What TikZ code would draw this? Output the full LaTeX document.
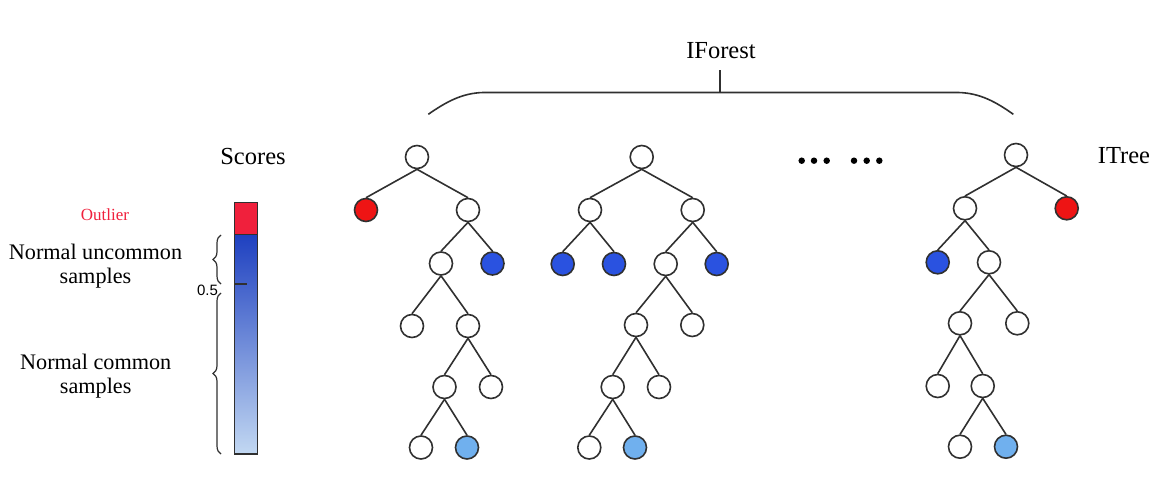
\documentclass[tikz,border=0pt]{standalone}
\usepackage{fontspec}
\setmainfont{Liberation Serif}
\newfontfamily\labelsans{Liberation Sans}
\usetikzlibrary{decorations.pathreplacing}

\definecolor{leafred}{HTML}{EE1414}
\definecolor{leafblue}{HTML}{2A52E0}
\definecolor{leaflight}{HTML}{70B0EE}
\definecolor{outred}{HTML}{F0203C}
\definecolor{edgegray}{HTML}{303030}
\definecolor{bartop}{HTML}{1E40C0}
\definecolor{barmid}{HTML}{5585E2}
\definecolor{barbot}{HTML}{C2D8F2}

\tikzset{
  nd/.style={circle, draw=edgegray, line width=1.6pt, minimum size=23pt, inner sep=0pt, fill=white},
  rednd/.style={nd, fill=leafred},
  bluend/.style={nd, fill=leafblue},
  lightnd/.style={nd, fill=leaflight},
  edge/.style={draw=edgegray, line width=1.6pt},
  bigtxt/.style={font=\fontsize{24.5}{28}\selectfont, inner sep=0pt},
  sidetxt/.style={font=\fontsize{22.2}{24}\selectfont, inner sep=0pt, align=center},
  dot/.style={circle, fill=black, minimum size=6.5pt, inner sep=0pt},
}

\begin{document}
\begin{tikzpicture}[x=1pt, y=1pt]
\useasboundingbox (0,0) rectangle (1155,-481);

% ---------- first isolation tree ----------
\node[nd]      (a0)  at (417,-157) {};
\node[rednd]   (a1)  at (366,-210) {};
\node[nd]      (a2)  at (468,-210) {};
\node[nd]      (a3)  at (441,-263.5) {};
\node[bluend]  (a4)  at (492.5,-263.5) {};
\node[nd]      (a5)  at (412,-326) {};
\node[nd]      (a6)  at (468,-326) {};
\node[nd]      (a7)  at (444.5,-387) {};
\node[nd]      (a8)  at (491,-387) {};
\node[nd]      (a9)  at (421,-447.5) {};
\node[lightnd] (a10) at (467,-447.5) {};
\foreach \p/\c in {a0/a1,a0/a2,a2/a3,a2/a4,a3/a5,a3/a6,a6/a7,a6/a8,a7/a9,a7/a10}
  \draw[edge] (\p.south) -- (\c.north);

% ---------- second isolation tree ----------
\node[nd]      (b0)  at (641.7,-157) {};
\node[nd]      (b1)  at (590,-210) {};
\node[nd]      (b2)  at (692.7,-210) {};
\node[bluend]  (b3)  at (562.7,-264) {};
\node[bluend]  (b4)  at (614,-264) {};
\node[nd]      (b5)  at (665.7,-264) {};
\node[bluend]  (b6)  at (716.7,-264) {};
\node[nd]      (b7)  at (636,-325) {};
\node[nd]      (b8)  at (692.3,-325) {};
\node[nd]      (b9)  at (612.7,-387) {};
\node[nd]      (b10) at (659,-387) {};
\node[nd]      (b11) at (589.3,-447.5) {};
\node[lightnd] (b12) at (635,-447.5) {};
\foreach \p/\c in {b0/b1,b0/b2,b1/b3,b1/b4,b2/b5,b2/b6,b5/b7,b5/b8,b7/b9,b7/b10,b9/b11,b9/b12}
  \draw[edge] (\p.south) -- (\c.north);

% ---------- last isolation tree ----------
\node[nd]      (c0)  at (1016,-155) {};
\node[nd]      (c1)  at (965,-208.3) {};
\node[rednd]   (c2)  at (1066.7,-208.3) {};
\node[bluend]  (c3)  at (937.7,-262.3) {};
\node[nd]      (c4)  at (989,-262.3) {};
\node[nd]      (c5)  at (960,-323.3) {};
\node[nd]      (c6)  at (1017.3,-323.3) {};
\node[nd]      (c7)  at (937.7,-386) {};
\node[nd]      (c8)  at (982.7,-386) {};
\node[nd]      (c9)  at (960,-446.7) {};
\node[lightnd] (c10) at (1006,-446.7) {};
\foreach \p/\c in {c0/c1,c0/c2,c1/c3,c1/c4,c4/c5,c4/c6,c5/c7,c5/c8,c8/c9,c8/c10}
  \draw[edge] (\p.south) -- (\c.north);

% ---------- ellipsis between trees ----------
\foreach \x [count=\i] in {801.7,814,826.7,854,866.7,879.3}
  \node[dot] (dot\i) at (\x,-160.7) {};

% ---------- forest brace ----------
\node[bigtxt, anchor=base] (forest) at (721,-59) {IForest};
\coordinate (bl) at (428.3,-114.3);
\coordinate (br) at (1013.3,-114.3);
\coordinate (bmid) at (720,-92.5);
\draw[edgegray, line width=1.6pt]
  (bl) .. controls (446,-102) and (462,-93) .. (483.3,-92.5)
  -- (958.3,-92.5) .. controls (980,-93) and (996,-102) .. (br);
\draw[edgegray, line width=1.6pt] (bmid) -- (720,-70);

\node[bigtxt, anchor=base] (itree) at (1124,-163.3) {ITree};
\node[bigtxt, anchor=base] (scores) at (253,-164.3) {Scores};

% ---------- score bar ----------
\shade[top color=bartop, middle color=barmid, bottom color=barbot]
  (234.3,-234.3) rectangle (257.3,-454);
\draw[edgegray, line width=1.3pt] (234.3,-234.3) rectangle (257.3,-454);
\draw[edgegray, line width=1.3pt, fill=outred] (234.3,-202.7) rectangle (257.3,-234.3);
\draw[edgegray, line width=1.4pt] (234.3,-284) -- (246.7,-284);

% ---------- range braces ----------
\draw[edgegray, line width=1.2pt, decorate, decoration={brace, amplitude=8pt}]
  (221,-284) -- (221,-235);
\draw[edgegray, line width=1.2pt, decorate, decoration={brace, amplitude=8pt}]
  (221,-454) -- (221,-293);

\node[font=\labelsans\fontsize{15}{17}\selectfont, inner sep=0pt, anchor=base] (half) at (207.5,-295) {0.5};
\node[font=\fontsize{17}{19}\selectfont, text=outred, inner sep=0pt, anchor=base] (outlier) at (105,-220.7) {Outlier};
% the base anchor of a two-line label sits on its second line
\node[sidetxt, anchor=base] (uncommon) at (95.5,-283) {Normal uncommon\\samples};
\node[sidetxt, anchor=base] (common) at (95.7,-393) {Normal common\\samples};
\end{tikzpicture}
\end{document}
